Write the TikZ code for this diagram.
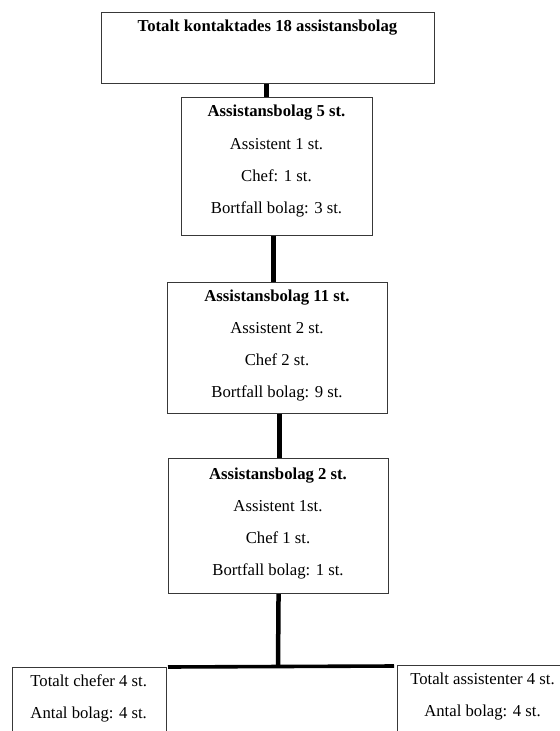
\documentclass[tikz,border=0pt]{standalone}
\usepackage{fontspec}
\setmainfont{Liberation Serif}
\begin{document}
\begin{tikzpicture}[x=1bp,y=-1bp,
  box/.style={draw=black!78, line width=1.1bp, fill=white, inner sep=0pt, anchor=north west},
  txt/.style={anchor=base, inner sep=0pt, font=\fontsize{16.7bp}{20bp}\selectfont},
  conn/.style={line width=4.5bp, black},
  hconn/.style={line width=3.6bp, black}]
\useasboundingbox (0,0) rectangle (560,731);
\clip (0,0) rectangle (560,731);
% boxes
\node[box, minimum width=333bp, minimum height=71bp] (top) at (101,12) {};
\node[box, minimum width=191bp, minimum height=138bp] (b1) at (181,97) {};
\node[box, minimum width=220bp, minimum height=131bp] (b2) at (167,282) {};
\node[box, minimum width=220bp, minimum height=135bp] (b3) at (168,458) {};
\node[box, minimum width=154bp, minimum height=120bp] (bl) at (12,667) {};
\node[box, minimum width=171bp, minimum height=120bp] (br) at (397,665) {};
% texts
\node[txt] (t0) at (267.5,32) {\bfseries Totalt kontaktades 18 assistansbolag};
\node[txt] (t11) at (276.5,117) {\bfseries Assistansbolag 5 st.};
\node[txt] (t12) at (276.5,149.5) {Assistent 1 st.};
\node[txt] (t13) at (276.5,181.5) {Chef: 1 st.};
\node[txt] (t14) at (276.5,213) {Bortfall bolag: 3 st.};
\node[txt] (t21) at (277,301) {\bfseries Assistansbolag 11 st.};
\node[txt] (t22) at (277,333.5) {Assistent 2 st.};
\node[txt] (t23) at (277,365.5) {Chef 2 st.};
\node[txt] (t24) at (277,397) {Bortfall bolag: 9 st.};
\node[txt] (t31) at (278,479) {\bfseries Assistansbolag 2 st.};
\node[txt] (t32) at (278,511.5) {Assistent 1st.};
\node[txt] (t33) at (278,543.5) {Chef 1 st.};
\node[txt] (t34) at (278,575) {Bortfall bolag: 1 st.};
\node[txt] (tl1) at (88.7,686) {Totalt chefer 4 st.};
\node[txt] (tl2) at (88.7,718) {Antal bolag: 4 st.};
\node[txt] (tr1) at (482.5,684) {Totalt assistenter 4 st.};
\node[txt] (tr2) at (482.5,716) {Antal bolag: 4 st.};
% connectors
\draw[conn] ([xshift=-1.5bp]top.south) -- ([xshift=-1.5bp]top.south |- b1.north);
\draw[conn] ([xshift=-3.5bp]b1.south) -- ([xshift=-3.5bp]b1.south |- b2.north);
\draw[conn] ([xshift=2bp]b2.south) -- ([xshift=2bp]b2.south |- b3.north);
\coordinate (hL) at (168,667);
\coordinate (hR) at (394,666);
\coordinate (hM) at (278,666.5);
\draw[conn] (b3.south) -- (hM);
\draw[hconn] (hL) -- (hR);
\end{tikzpicture}
\end{document}
